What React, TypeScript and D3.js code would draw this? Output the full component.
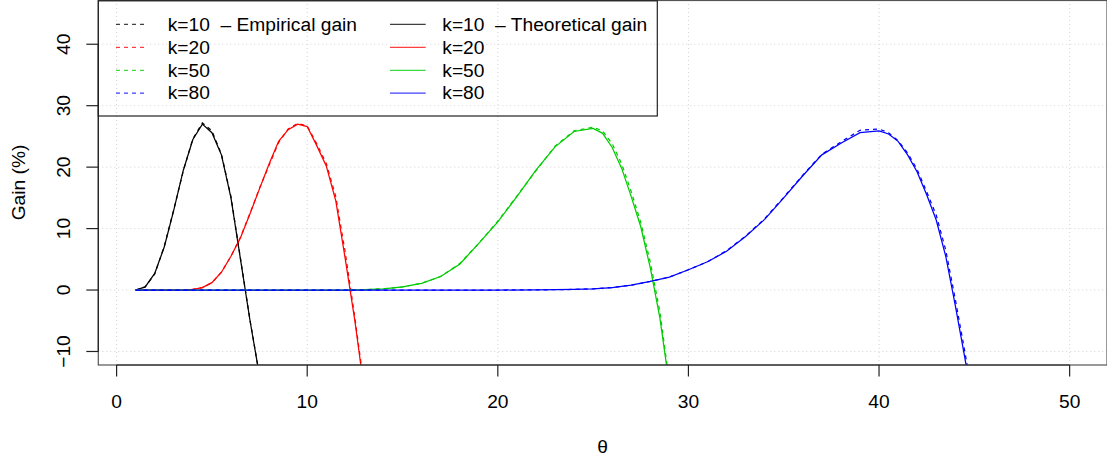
import React from "react";
import * as d3 from "d3";

// ---- Data (theta grid and gain in %) ----
const thetaK10 = [1, 1.5, 2, 2.5, 3, 3.5, 4, 4.5, 5, 5.5, 6, 6.5, 7, 7.5];
const theoK10 = [0, 0.5, 2.7, 7, 13, 19.5, 24.5, 27, 25.6, 22, 15, 5, -5, -14];
const empK10 = [0, 0.5, 2.6, 7.1, 13.1, 19.4, 24.6, 27.2, 25.9, 22.1, 15.2, 5.1, -4.9, -14];

const thetaK20 = [1, 2, 3, 3.5, 4, 4.5, 5, 5.5, 6, 6.5, 7, 7.5, 8, 8.5, 9, 9.5, 10, 10.5, 11, 11.5, 12, 12.5, 13];
const theoK20 = [0, 0, 0, 0, 0.1, 0.4, 1.2, 2.9, 5.5, 8.5, 12.4, 16.5, 20.5, 24.2, 26.1, 27.0, 26.6, 23.5, 20.2, 14.5, 5, -5, -16.5];
const empK20 = [0, 0, 0, 0, 0.1, 0.4, 1.2, 2.9, 5.5, 8.6, 12.5, 16.6, 20.3, 24.0, 26.2, 27.1, 26.7, 23.8, 20.6, 15.2, 6, -4.5, -16];

const thetaK50 = [1, 5, 10, 12, 13, 14, 15, 16, 17, 18, 19, 20, 21, 22, 23, 24, 25, 25.5, 26, 26.5, 27, 27.5, 28, 28.5, 29];
const theoK50 = [0, 0, 0, 0, 0.05, 0.2, 0.5, 1.1, 2.2, 4.2, 7.6, 11.1, 15.2, 19.5, 23.3, 25.8, 26.3, 25.5, 23.2, 19.8, 15.2, 10.3, 3.6, -4.5, -15.5];
const empK50 = [0, 0, 0, 0, 0.05, 0.2, 0.5, 1.1, 2.2, 4.3, 7.6, 11.2, 15.3, 19.4, 23.4, 25.9, 26.5, 25.9, 23.8, 20.5, 16.0, 11.0, 4.5, -3.5, -15];

const thetaK80 = [1, 10, 20, 22, 24, 25, 26, 27, 28, 29, 30, 31, 32, 33, 34, 35, 36, 37, 38, 39, 40, 40.5, 41, 41.5, 42, 42.5, 43, 43.5, 44, 44.5, 45];
const theoK80 = [0, 0, 0, 0.02, 0.1, 0.2, 0.4, 0.8, 1.4, 2.1, 3.3, 4.6, 6.3, 8.7, 11.5, 15.0, 18.6, 22.0, 23.9, 25.6, 25.9, 25.4, 24.2, 22.0, 19.2, 15.5, 11.4, 5.5, -2.5, -11, -20];
const empK80 = [0, 0, 0, 0.02, 0.1, 0.2, 0.4, 0.8, 1.4, 2.1, 3.3, 4.6, 6.4, 8.8, 11.6, 15.1, 18.7, 22.1, 24.1, 26.0, 26.2, 25.6, 24.3, 22.3, 19.6, 16.0, 12.2, 6.5, -1.5, -10, -19];

const seriesLabels = ["k=10", "k=20", "k=50", "k=80"];
const seriesColors = ["#000000", "#FF0000", "#00CD00", "#0000FF"];
const thetaSets = [thetaK10, thetaK20, thetaK50, thetaK80];
const theoSets = [theoK10, theoK20, theoK50, theoK80];
const empSets = [empK10, empK20, empK50, empK80];

const xTicks = [0, 10, 20, 30, 40, 50];
const yTicks = [-10, 0, 10, 20, 30, 40];

const W = 1107;
const H = 457;
const FONT = "'Liberation Sans', Arial, Helvetica, sans-serif";
const FS = 19.2;

export default function App() {
  const left = 98.3, right = 1107, top = 0, bottom = 365;
  const x = d3.scaleLinear().domain([1 - 0.04 * 49, 50 + 0.04 * 49]).range([left, right]);
  const y = d3.scaleLinear().domain([-10 - 0.04 * 55, 45 + 0.04 * 55]).range([bottom, top]);

  const lineGen = d3
    .line<[number, number]>()
    .x((d) => x(d[0]))
    .y((d) => y(d[1]));

  const legendRowsY = [24.4, 47.4, 70.3, 93.1];

  return (
    <div style={{ position: "fixed", left: 0, top: 0 }}>
      <svg width={W} height={H} style={{ display: "block", background: "#fff" }} fontFamily={FONT}>
        <defs>
          <clipPath id="plotclip">
            <rect x={left} y={top} width={right - left} height={bottom - top} />
          </clipPath>
        </defs>
        {/* grid */}
        <g stroke="#D3D3D3" strokeWidth={1} strokeDasharray="1,3">
          {xTicks.map((t) => (
            <line key={"gx" + t} x1={x(t)} x2={x(t)} y1={top} y2={bottom} />
          ))}
          {yTicks.map((t) => (
            <line key={"gy" + t} x1={left} x2={right} y1={y(t)} y2={y(t)} />
          ))}
        </g>
        {/* curves */}
        <g clipPath="url(#plotclip)" fill="none" strokeWidth={1.25}>
          {thetaSets.map((th, i) => (
            <g key={"s" + i} stroke={seriesColors[i]}>
              <path d={lineGen(th.map((t, j) => [t, theoSets[i][j]] as [number, number])) || ""} />
              <path
                d={lineGen(th.map((t, j) => [t, empSets[i][j]] as [number, number])) || ""}
                strokeDasharray="4,4"
              />
            </g>
          ))}
        </g>
        {/* box */}
        <rect x={left} y={top + 0.5} width={right - left} height={bottom - top - 0.5} fill="none" stroke="#555" strokeWidth={1.2} />
        {/* axes */}
        <g stroke="#222" strokeWidth={1.2}>
          <line x1={x(0)} x2={x(50)} y1={bottom} y2={bottom} />
          {xTicks.map((t) => (
            <line key={"xt" + t} x1={x(t)} x2={x(t)} y1={bottom} y2={bottom + 11.5} />
          ))}
          <line x1={left} x2={left} y1={y(-10)} y2={y(40)} />
          {yTicks.map((t) => (
            <line key={"yt" + t} x1={left} x2={left - 12} y1={y(t)} y2={y(t)} />
          ))}
        </g>
        <g fontSize={FS} fill="#000">
          {xTicks.map((t) => (
            <text key={"xl" + t} x={x(t)} y={407.5} textAnchor="middle">
              {t}
            </text>
          ))}
          {yTicks.map((t) => (
            <text key={"yl" + t} transform={`translate(70,${y(t)}) rotate(-90)`} textAnchor="middle">
              {t === -10 ? "\u221210" : t}
            </text>
          ))}
          <text transform={`translate(25,${(top + bottom) / 2}) rotate(-90)`} textAnchor="middle">
            Gain (%)
          </text>
          <text x={(left + right) / 2} y={452.5} textAnchor="middle">
            θ
          </text>
        </g>
        {/* legend */}
        <g>
          <rect x={left} y={0.8} width={657.3 - left} height={116 - 0.8} fill="none" stroke="#222" strokeWidth={1.2} />
          {seriesLabels.map((lab, i) => (
            <g key={"lg" + i}>
              <line x1={116} x2={148} y1={legendRowsY[i]} y2={legendRowsY[i]} stroke={seriesColors[i]} strokeWidth={1.2} strokeDasharray="4,4" opacity={0.75} />
              <text x={167.7} y={legendRowsY[i] + 6.3} fontSize={FS} style={{ whiteSpace: "pre" }}>
                {i === 0 ? lab + "  \u2013 Empirical gain" : lab}
              </text>
              <line x1={390} x2={425.7} y1={legendRowsY[i]} y2={legendRowsY[i]} stroke={seriesColors[i]} strokeWidth={1.2} opacity={0.75} />
              <text x={442.3} y={legendRowsY[i] + 6.3} fontSize={FS} style={{ whiteSpace: "pre" }}>
                {i === 0 ? lab + "  \u2013 Theoretical gain" : lab}
              </text>
            </g>
          ))}
        </g>
      </svg>
    </div>
  );
}
